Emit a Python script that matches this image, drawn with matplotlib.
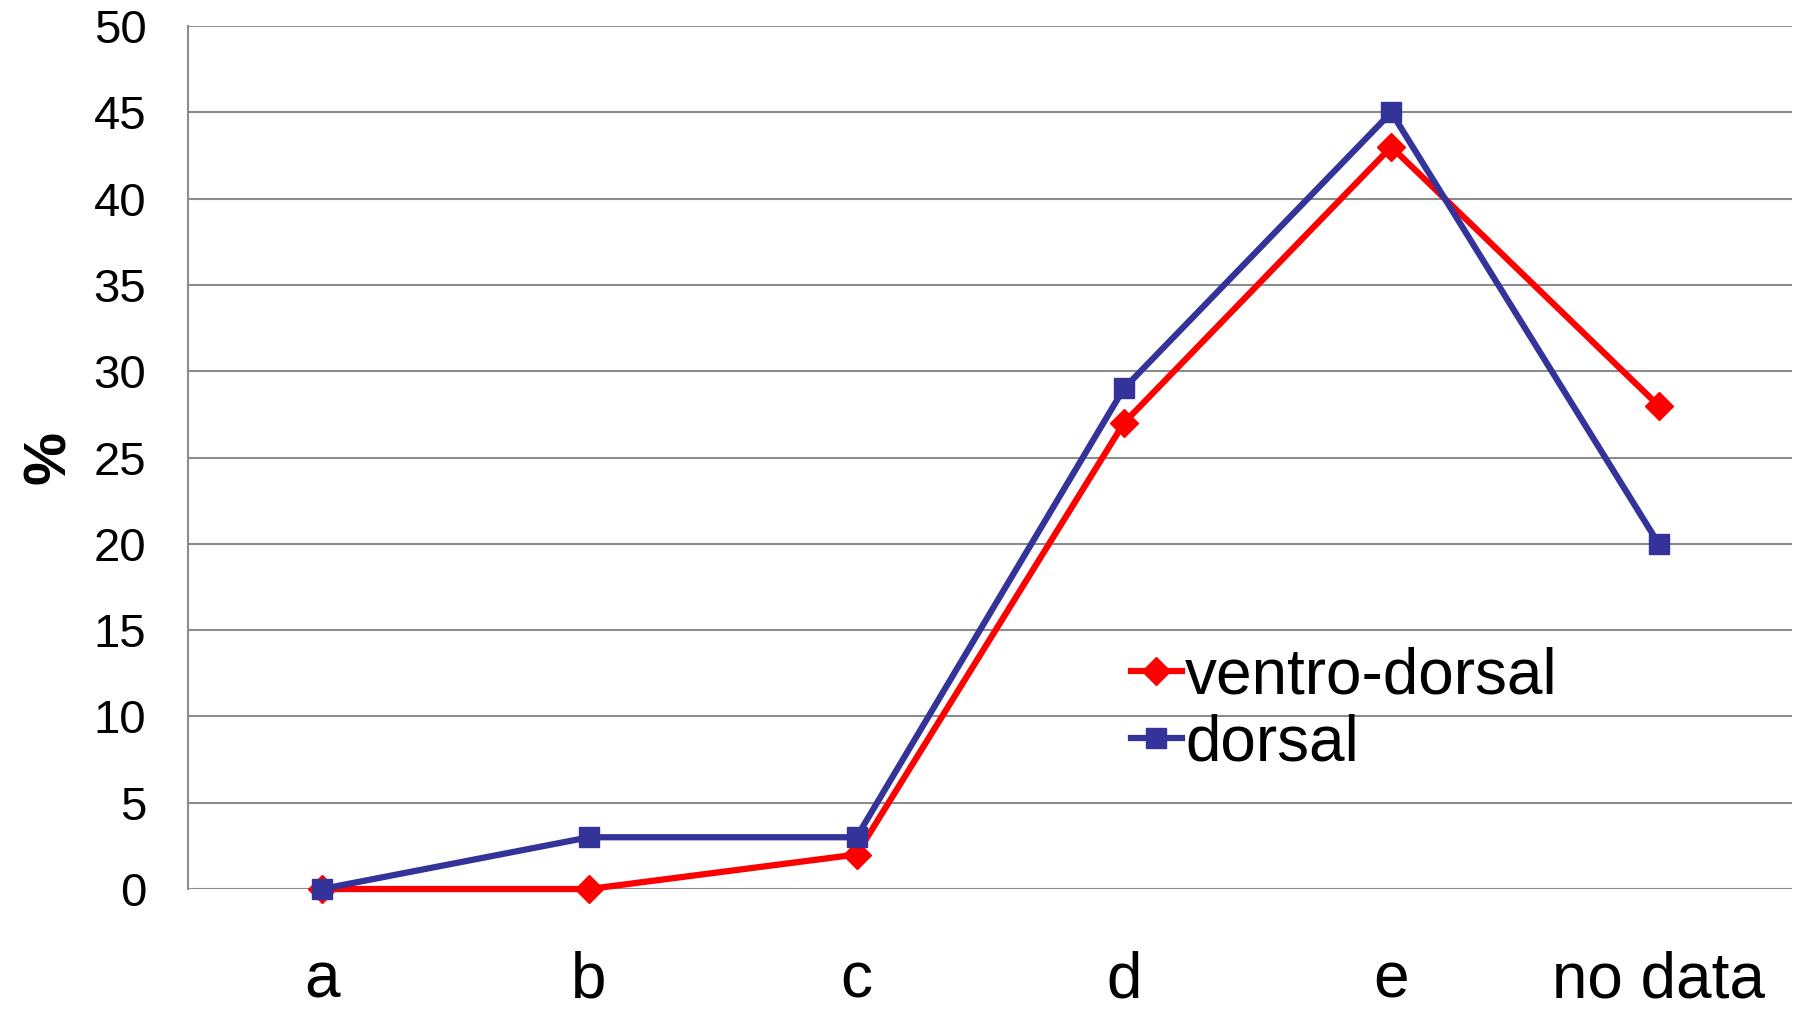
import matplotlib
matplotlib.use("Agg")
import matplotlib.pyplot as plt

# Categories and series (%)
categories = ["a", "b", "c", "d", "e", "no data"]
ventro_dorsal = [0, 0, 2, 27, 43, 28]
dorsal = [0, 3, 3, 29, 45, 20]

plt.rcParams["font.family"] = ["Liberation Sans", "DejaVu Sans"]

fig = plt.figure(figsize=(17.96, 10.09), dpi=100)
ax = fig.add_axes([0.1047, 0.1189, 0.8933, 0.8553])

x = list(range(len(categories)))
ax.plot(x, ventro_dorsal, color="#ff0000", lw=4.5, marker="D", markersize=14,
        label="ventro-dorsal", clip_on=False, zorder=3)
ax.plot(x, dorsal, color="#333399", lw=4.5, marker="s", markersize=15,
        label="dorsal", clip_on=False, zorder=4)

ax.set_xlim(-0.5, len(categories) - 0.5)
ax.set_ylim(0, 50)
ax.set_yticks(range(0, 51, 5))
ax.set_xticks(x)
ax.set_xticklabels(categories)

# gridlines only, gray left axis
ax.yaxis.grid(True, color="#8c8c8c", lw=1.5)
ax.set_axisbelow(True)
for side in ("top", "right", "bottom"):
    ax.spines[side].set_visible(False)
ax.spines["left"].set_color("#8c8c8c")
ax.spines["left"].set_linewidth(1.5)

ax.tick_params(axis="y", length=0, pad=30, labelsize=34)
ax.tick_params(axis="x", length=0, pad=44, labelsize=46)

ax.set_ylabel("%", fontsize=43, fontweight="bold", labelpad=12)

ax.legend(loc="upper left", bbox_to_anchor=(0.6295, 0.359),
          bbox_transform=fig.transFigure, frameon=False, fontsize=46,
          handlelength=0.8, handletextpad=0.05, labelspacing=0.1,
          borderpad=0, borderaxespad=0)

fig.savefig("out.png", dpi=100)
